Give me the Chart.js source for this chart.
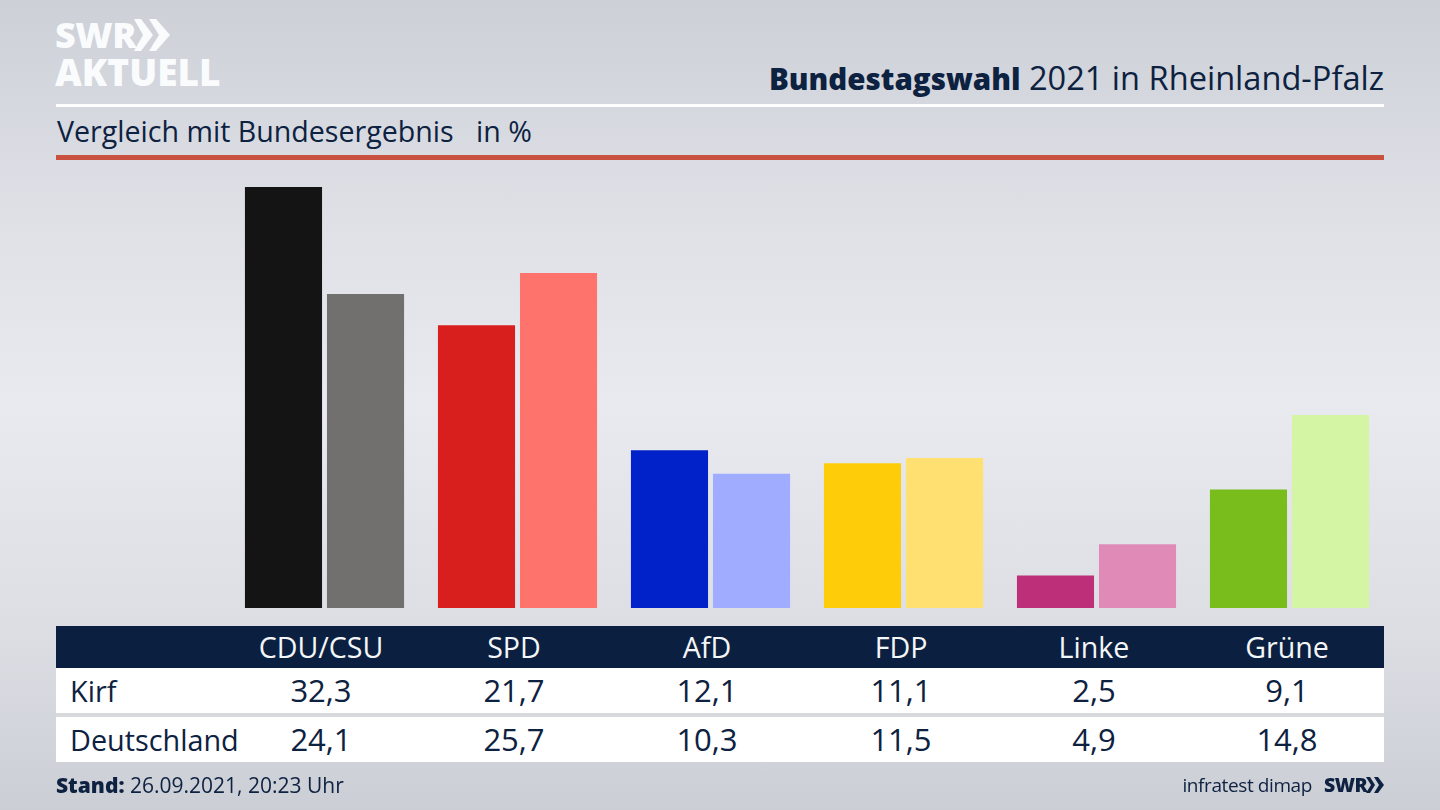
<!DOCTYPE html>
<html lang="de">
<head>
<meta charset="utf-8">
<title>Bundestagswahl 2021 in Rheinland-Pfalz</title>
<script src="https://cdn.jsdelivr.net/npm/chart.js@4"></script>
<style>
html, body { margin: 0; padding: 0; }
body {
    width: 1440px; height: 810px; position: relative; overflow: hidden;
    font-family: "Open Sans", sans-serif; color: #0d2140;
    background: linear-gradient(180deg, #cdd0d7 0%, #dfe1e7 28%, #e9eaef 50%, #dcdee4 78%, #cbced5 100%);
}
#chartBox { position: absolute; left: 0; top: 0; width: 1440px; height: 810px; }
.txt { position: absolute; white-space: nowrap; }
.rule { position: absolute; left: 56px; width: 1328px; }
#logo1, #logo2 { left: 55px; color: #fafbfc; font-weight: 800; letter-spacing: -0.5px; }
#logo1 { top: 11px; font-size: 36px; line-height: 48px; }
#logo2 { top: 49px; font-size: 37px; line-height: 46px; letter-spacing: 0; }
#title { right: 56px; top: 56px; font-size: 32.6px; line-height: 44px; }
#title b { font-weight: 800; font-size: 29.5px; }
#subtitle { left: 57px; top: 109px; font-size: 28.6px; line-height: 44px; }
#stand { left: 56px; top: 769px; font-size: 21px; line-height: 32px; }
#source { right: 128px; top: 769px; font-size: 19px; line-height: 32px; letter-spacing: -0.4px; }
#swr { left: 1324px; top: 769px; font-size: 19.5px; line-height: 32px; font-weight: 800; letter-spacing: -0.5px; }
#tableBox { position: absolute; left: 56px; top: 626px; width: 1328px; height: 136px; background: #d7d9dd; }
.row { position: absolute; left: 0; width: 1328px; }
.cell { position: absolute; transform: translateX(-50%); white-space: nowrap; }
.rowName { position: absolute; left: 14px; white-space: nowrap; font-size: 28.8px; }
</style>
</head>
<body>
<div id="logo1" class="txt">SWR</div>
<svg style="position:absolute;left:134px;top:19px" width="38" height="32">
    <polygon points="0,0 7,0 19,16 7,32 0,32 9,16" fill="#fafbfc"/>
    <polygon points="15,0 22,0 36,16 22,32 15,32 25,16" fill="#fafbfc"/>
</svg>
<div id="logo2" class="txt">AKTUELL</div>
<div id="title" class="txt"><b>Bundestagswahl</b> 2021 in Rheinland-Pfalz</div>
<div class="rule" style="top:104px;height:3px;background:#fff"></div>
<div id="subtitle" class="txt">Vergleich mit Bundesergebnis &nbsp; in %</div>
<div class="rule" style="top:155px;height:5px;background:#c9513f"></div>

<div id="chartBox"><canvas id="wahlChart"></canvas></div>

<div id="tableBox"></div>

<div id="stand" class="txt"><b style="font-weight:800">Stand:</b> 26.09.2021, 20:23 Uhr</div>
<div id="source" class="txt">infratest dimap</div>
<div id="swr" class="txt">SWR</div>
<svg style="position:absolute;left:1366px;top:777px" width="18" height="16">
    <polygon points="0,0 4,0 9,8 4,16 0,16 5,8" fill="#0d2140"/>
    <polygon points="8,0 12,0 18,8 12,16 8,16 13,8" fill="#0d2140"/>
</svg>

<script>
var parties = ['CDU/CSU', 'SPD', 'AfD', 'FDP', 'Linke', 'Grüne'];
var kirf = [32.3, 21.7, 12.1, 11.1, 2.5, 9.1];
var deutschland = [24.1, 25.7, 10.3, 11.5, 4.9, 14.8];
var kirfColors = ['#141414', '#d81f1e', '#0022c8', '#ffcc0a', '#bd2f78', '#79bd1c'];
var deutschlandColors = ['#72706e', '#ff736d', '#a0acff', '#ffe070', '#e08ab8', '#d3f5a4'];

// Mittelpunkte der Tabellenspalten, relativ zur Tabelle
var columnX = [265, 458, 651, 845, 1038, 1231];

function formatValue(value) {
    return value.toFixed(1).replace('.', ',');
}

function addRow(top, height, bg, color, name, cells, size) {
    var row = document.createElement('div');
    row.className = 'row';
    row.style.cssText = 'top:' + top + 'px;height:' + height + 'px;background:' + bg + ';color:' + color + ';font-size:' + size + 'px;line-height:' + height + 'px';
    if (name) {
        var label = document.createElement('div');
        label.className = 'rowName';
        label.textContent = name;
        row.appendChild(label);
    }
    cells.forEach(function (text, i) {
        var cell = document.createElement('div');
        cell.className = 'cell';
        cell.style.left = columnX[i] + 'px';
        cell.textContent = text;
        row.appendChild(cell);
    });
    document.getElementById('tableBox').appendChild(row);
}

addRow(0, 42, '#0b2040', '#f4f6f8', '', parties, 28.6);
addRow(42, 45, '#fff', '#0d2140', 'Kirf', kirf.map(formatValue), 31);
addRow(91, 45, '#fff', '#0d2140', 'Deutschland', deutschland.map(formatValue), 31);

var ctx = document.getElementById('wahlChart').getContext('2d');
var wahlChart = new Chart(ctx, {
    type: 'bar',
    data: {
        labels: parties,
        datasets: [
            { label: 'Kirf', data: kirf, backgroundColor: kirfColors, borderWidth: 0 },
            { label: 'Deutschland', data: deutschland, backgroundColor: deutschlandColors, borderWidth: 0 }
        ]
    },
    options: {
        responsive: true,
        maintainAspectRatio: false,
        animation: false,
        layout: { padding: { left: 228, right: 54, top: 187, bottom: 202 } },
        datasets: { bar: { categoryPercentage: 0.85, barPercentage: 0.94 } },
        plugins: { legend: { display: false }, tooltip: { enabled: false } },
        scales: {
            x: { display: false },
            y: { display: false, min: 0, max: 32.3 }
        }
    }
});
</script>
</body>
</html>
